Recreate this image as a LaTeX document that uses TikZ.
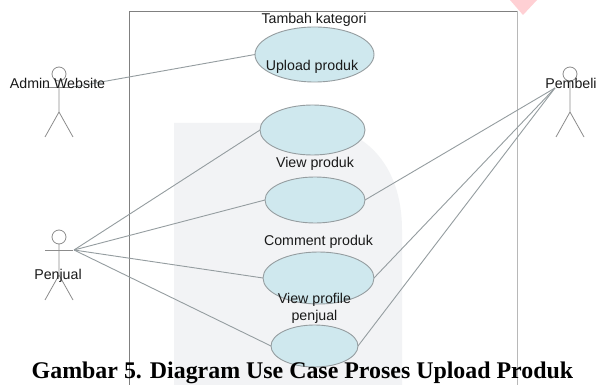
\documentclass[tikz,border=0pt]{standalone}
\usepackage{fontspec}
\setmainfont{Liberation Serif}
\setsansfont{Liberation Sans}
\definecolor{uc}{HTML}{CFE8EE}
\definecolor{edge}{HTML}{959DA0}
\definecolor{wm}{HTML}{F2F3F5}
\definecolor{pinkm}{HTML}{FFD0D4}
\usetikzlibrary{shapes.geometric}
\tikzset{
  uc/.style={ellipse,draw=edge,fill=uc,line width=.9pt,inner sep=0pt,outer sep=0pt},
  lbl/.style={font=\sffamily\fontsize{14.2}{16}\selectfont,text=black!90,inner sep=0pt,align=center},
  conn/.style={draw=edge,line width=.9pt},
  stick/.style={draw=black!45,line width=.8pt}
}
\newcommand{\actor}[2]{%
  \draw[stick] (#1,#2) circle (7);
  \draw[stick] (#1,#2+7) -- (#1,#2+38) -- (#1-14,#2+63);
  \draw[stick] (#1,#2+38) -- (#1+14,#2+63);
}
\begin{document}
\begin{tikzpicture}[x=1pt,y=-1pt]
\useasboundingbox (0,0) rectangle (598,385);
\fill[white] (0,0) rectangle (598,385);
\fill[wm] (174,385) -- (174,123) -- (300,123) .. controls (365,123) and (402,165) .. (402,230) -- (402,385) -- cycle;
\fill[pinkm] (510,0) -- (537,0) -- (523,15) -- cycle;
\draw[draw=black!50,line width=.8pt] (517,385) -- (517,11) -- (129,11) -- (129,385);
\draw[draw=black!28,line width=1pt] (517,11) -- (517,385);
\actor{59}{74}
\actor{570}{74}
\actor{59}{237}
\draw[stick] (45,87) -- (73,87);
\draw[stick] (45,250) -- (73,250);
\coordinate (admin) at (73,87);
\coordinate (penj) at (74,250);
\coordinate (pemb) at (555,88);
\node[uc,minimum width=119pt,minimum height=55pt] (e1) at (314.5,54.5) {};
\node[uc,minimum width=105pt,minimum height=50pt] (e2) at (312.5,130) {};
\node[uc,minimum width=100pt,minimum height=46pt] (e3) at (315,200) {};
\node[uc,minimum width=111pt,minimum height=52pt] (e4) at (318.5,278) {};
\node[uc,minimum width=87pt,minimum height=42pt] (e5) at (314.5,346) {};
\draw[conn] (admin) -- (e1.west);
\draw[conn] (penj) -- (e2.west);
\draw[conn] (penj) -- (e3.west);
\draw[conn] (penj) -- (e4.west);
\draw[conn] (penj) -- (e5.west);
\draw[conn] (pemb) -- (e3.east);
\draw[conn] (pemb) -- (e4.east);
\draw[conn] (pemb) -- (e5.east);
\node[lbl] (t1) at (314,20) {Tambah kategori};
\node[lbl] (t2) at (312,66.5) {Upload produk};
\node[lbl] (t3) at (315,164) {View produk};
\node[lbl] (t4) at (318.5,242) {Comment produk};
\node[lbl] (t5a) at (314.5,300) {View profile};
\node[lbl] (t5b) at (314.5,316.5) {penjual};
\node[lbl] (la) at (57.5,83.5) {Admin Website};
\node[lbl] (lb) at (571,83.5) {Pembeli};
\node[lbl] (lc) at (58,276) {Penjual};
\node[inner sep=0pt,font=\rmfamily\bfseries\fontsize{23.9}{26}\selectfont] (cap) at (302.5,373) {Gambar 5. Diagram Use Case Proses Upload Produk};
\end{tikzpicture}
\end{document}
